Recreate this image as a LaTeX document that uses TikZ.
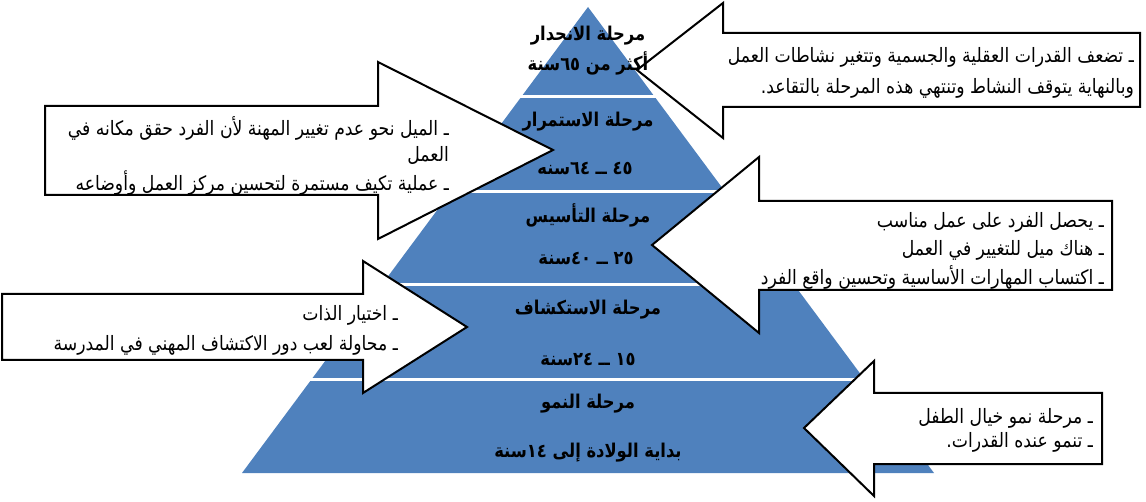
\documentclass[tikz,border=0pt]{standalone}
\usepackage{fontspec}
\TeXXeTstate=1
\newfontfamily\notefont[Script=Arabic,FakeStretch=0.87]{DejaVu Sans}
\newfontfamily\stagefont[Script=Arabic,FakeStretch=0.86]{DejaVu Sans}
\definecolor{pyrblue}{HTML}{4F81BD}
\begin{document}
\begin{tikzpicture}[x=1pt,y=-1pt,
  stagetxt/.style={font=\stagefont\bfseries\fontsize{19}{21}\selectfont, inner sep=0pt, anchor=center},
  notetxt/.style={font=\notefont\fontsize{19.8}{21}\selectfont, inner sep=0pt, anchor=east},
  callout/.style={draw=black, fill=white, line width=2pt, line join=miter},
  sep/.style={draw=white, line width=3pt}]
\useasboundingbox (0,0) rectangle (1146,502);
% pyramid
\coordinate (apex) at (588,7);
\coordinate (bl) at (242,473);
\coordinate (br) at (934,473);
\fill[pyrblue] (apex) -- (br) -- (bl) -- cycle;
\draw[sep] (200,97) -- (1000,97);
\draw[sep] (200,191.5) -- (1000,191.5);
\draw[sep] (200,285) -- (1000,285);
\draw[sep] (200,380) -- (1000,380);
% callouts
\draw[callout] (637,70) -- (723,3) -- (723,33) -- (1140,33) -- (1140,107) -- (723,107) -- (723,138) -- cycle;
\draw[callout] (553,150) -- (378,62) -- (378,106) -- (45,106) -- (45,195) -- (378,195) -- (378,239) -- cycle;
\draw[callout] (652,245) -- (759,157) -- (759,201) -- (1112,201) -- (1112,290) -- (759,290) -- (759,333) -- cycle;
\draw[callout] (467,327) -- (363,261) -- (363,294) -- (2,294) -- (2,360) -- (363,360) -- (363,393) -- cycle;
\draw[callout] (804,428) -- (874,361) -- (874,393) -- (1102,393) -- (1102,464) -- (874,464) -- (874,496) -- cycle;
% stage labels
\node[stagetxt] (s1a) at (588,36) {\beginR مرحلة الانحدار\endR};
\node[stagetxt] (s1b) at (588,63) {\beginR أكثر من ٦٥سنة\endR};
\node[stagetxt] (s2a) at (588,122) {\beginR مرحلة الاستمرار\endR};
\node[stagetxt] (s2b) at (585,169) {\beginR ٤٥ ــ ٦٤سنه\endR};
\node[stagetxt] (s3a) at (588,215) {\beginR مرحلة التأسيس\endR};
\node[stagetxt] (s3b) at (586,259) {\beginR ٢٥ ــ ٤٠سنة\endR};
\node[stagetxt] (s4a) at (588,310) {\beginR مرحلة الاستكشاف\endR};
\node[stagetxt] (s4b) at (588,360) {\beginR ١٥ ــ ٢٤سنة\endR};
\node[stagetxt] (s5a) at (588,404) {\beginR مرحلة النمو\endR};
\node[stagetxt] (s5b) at (588,453) {\beginR بداية الولادة إلى ١٤سنة\endR};
% notes
\node[notetxt] (n1a) at (1134,57) {\beginR ـ تضعف القدرات العقلية والجسمية وتتغير نشاطات العمل\endR};
\node[notetxt] (n1b) at (1134,88) {\beginR وبالنهاية يتوقف النشاط وتنتهي هذه المرحلة بالتقاعد.\endR};
\node[notetxt] (n2a) at (449,128) {\beginR ـ الميل نحو عدم تغيير المهنة لأن الفرد حقق مكانه في\endR};
\node[notetxt] (n2b) at (449,155) {\beginR العمل\endR};
\node[notetxt] (n2c) at (449,183) {\beginR ـ عملية تكيف مستمرة لتحسين مركز العمل وأوضاعه\endR};
\node[notetxt] (n3a) at (1104,222) {\beginR ـ يحصل الفرد على عمل مناسب\endR};
\node[notetxt] (n3b) at (1104,250) {\beginR ـ هناك ميل للتغيير في العمل\endR};
\node[notetxt] (n3c) at (1104,277) {\beginR ـ اكتساب المهارات الأساسية وتحسين واقع الفرد\endR};
\node[notetxt] (n4a) at (398,315) {\beginR ـ اختيار الذات\endR};
\node[notetxt] (n4b) at (398,345) {\beginR ـ محاولة لعب دور الاكتشاف المهني في المدرسة\endR};
\node[notetxt] (n5a) at (1093,418) {\beginR ـ مرحلة نمو خيال الطفل\endR};
\node[notetxt] (n5b) at (1093,442) {\beginR ـ تنمو عنده القدرات.\endR};
\end{tikzpicture}
\end{document}
